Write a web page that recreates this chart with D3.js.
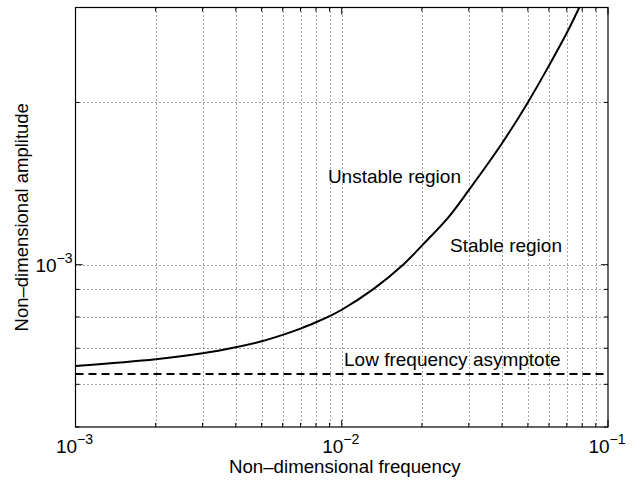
<!DOCTYPE html>
<html>
<head>
<meta charset="utf-8">
<script src="https://cdn.jsdelivr.net/npm/d3@7"></script>
<style>
  html, body { margin: 0; padding: 0; background: #fff; }
  svg { display: block; }
  text { font-family: "Liberation Sans", Arial, Helvetica, sans-serif; fill: #000; }
</style>
</head>
<body>
<svg id="chart" width="644" height="481"></svg>
<script>
// Stability boundary: amplitude versus frequency (both non-dimensional)
const frequency = [0.001, 0.002, 0.003, 0.004, 0.005, 0.006, 0.007, 0.008, 0.009, 0.010,
                   0.0131, 0.017, 0.020, 0.025, 0.030, 0.040, 0.050, 0.060, 0.070, 0.078];
const amplitude = [6.49e-4, 6.68e-4, 6.85e-4, 7.03e-4, 7.21e-4, 7.41e-4, 7.61e-4, 7.82e-4, 8.03e-4, 8.25e-4,
                   9.0e-4, 1.0e-3, 1.085e-3, 1.22e-3, 1.375e-3, 1.68e-3, 2.0e-3, 2.34e-3, 2.69e-3, 3.0e-3];

// Low frequency asymptote level
const asymptoteFrequency = [0.001, 0.1];
const asymptoteAmplitude = [6.27e-4, 6.27e-4];

// Axis extents and labelled ticks
const xDomain = [1e-3, 1e-1];
const yDomain = [5e-4, 3e-3];
const xTickValues = [1e-3, 1e-2, 1e-1];
const xTickExponents = ["\u22123", "\u22122", "\u22121"];
const yTickValues = [1e-3];
const yTickExponents = ["\u22123"];

// Region annotations (anchored at the start of each label's baseline)
const annotations = [
  { text: "Unstable region", f: 0.00887, a: 1.417e-3 },
  { text: "Stable region", f: 0.0255, a: 1.055e-3 },
  { text: "Low frequency asymptote", f: 0.0102, a: 6.49e-4 }
];

const svg = d3.select("#chart");
const W = 644, H = 481;
const margin = { left: 75.5, right: 36, top: 7.5, bottom: 54 };
const x0 = margin.left, x1 = W - margin.right, y0 = margin.top, y1 = H - margin.bottom;

const x = d3.scaleLog().domain(xDomain).range([x0, x1]);
const y = d3.scaleLog().domain(yDomain).range([y1, y0]);

svg.append("rect").attr("width", W).attr("height", H).attr("fill", "#fff");

// mantissa 1..9 positions in each decade, for grid and ticks
function logSteps(domain) {
  const out = [];
  const lo = Math.floor(Math.log10(domain[0]) + 1e-9), hi = Math.ceil(Math.log10(domain[1]) - 1e-9);
  for (let e = lo; e <= hi; e++) {
    for (let m = 1; m <= 9; m++) {
      const v = m * Math.pow(10, e);
      if (v >= domain[0] * 0.9999 && v <= domain[1] * 1.0001) out.push({ v, major: m === 1 });
    }
  }
  return out;
}
const xs = logSteps(xDomain);
const ys = logSteps(yDomain);

// dotted grid
const grid = svg.append("g").attr("stroke", "#000").attr("stroke-width", 0.8)
  .attr("stroke-dasharray", "1,3").attr("fill", "none").attr("opacity", 0.85);
grid.selectAll("line.gx").data(xs.filter(d => x(d.v) > x0 + 1 && x(d.v) < x1 - 1)).join("line")
  .attr("x1", d => Math.round(x(d.v)) + 0.5).attr("x2", d => Math.round(x(d.v)) + 0.5)
  .attr("y1", y0).attr("y2", y1);
grid.selectAll("line.gy").data(ys.filter(d => y(d.v) > y0 + 1 && y(d.v) < y1 - 1)).join("line")
  .attr("y1", d => Math.round(y(d.v)) + 0.5).attr("y2", d => Math.round(y(d.v)) + 0.5)
  .attr("x1", x0).attr("x2", x1);

// inward ticks on all four sides
const tickLen = d => d.major ? 7 : 4;
const ticks = svg.append("g").attr("stroke", "#000").attr("stroke-width", 1);
ticks.selectAll("line.tb").data(xs).join("line")
  .attr("x1", d => x(d.v)).attr("x2", d => x(d.v))
  .attr("y1", y1).attr("y2", d => y1 - tickLen(d));
ticks.selectAll("line.tt").data(xs).join("line")
  .attr("x1", d => x(d.v)).attr("x2", d => x(d.v))
  .attr("y1", y0).attr("y2", d => y0 + tickLen(d));
ticks.selectAll("line.tl").data(ys).join("line")
  .attr("y1", d => y(d.v)).attr("y2", d => y(d.v))
  .attr("x1", x0).attr("x2", d => x0 + tickLen(d));
ticks.selectAll("line.tr").data(ys).join("line")
  .attr("y1", d => y(d.v)).attr("y2", d => y(d.v))
  .attr("x1", x1).attr("x2", d => x1 - tickLen(d));

// frame
svg.append("rect").attr("x", x0).attr("y", y0).attr("width", x1 - x0).attr("height", y1 - y0)
  .attr("fill", "none").attr("stroke", "#000").attr("stroke-width", 1.2);

// tick labels: 10 with a superscript exponent
const tl = svg.append("g").attr("font-size", 19);
xTickValues.forEach((v, i) => {
  const t = tl.append("text").attr("x", x(v) - 1).attr("y", y1 + 26).attr("text-anchor", "middle");
  t.append("tspan").text("10");
  t.append("tspan").attr("font-size", 14).attr("dy", -9).text(xTickExponents[i]);
});
yTickValues.forEach((v, i) => {
  const t = tl.append("text").attr("x", x0 - 3).attr("y", y(v) + 7).attr("text-anchor", "end");
  t.append("tspan").text("10");
  t.append("tspan").attr("font-size", 14).attr("dy", -9).text(yTickExponents[i]);
});

// curves
svg.append("clipPath").attr("id", "plotclip").append("rect")
  .attr("x", x0).attr("y", y0).attr("width", x1 - x0).attr("height", y1 - y0);
const plot = svg.append("g").attr("clip-path", "url(#plotclip)");
const line = d3.line().x(d => x(d[0])).y(d => y(d[1])).curve(d3.curveCatmullRom.alpha(0.5));

plot.append("path").datum(d3.zip(frequency, amplitude)).attr("d", line)
  .attr("fill", "none").attr("stroke", "#000").attr("stroke-width", 2);
plot.append("path").datum(d3.zip(asymptoteFrequency, asymptoteAmplitude)).attr("d", line)
  .attr("fill", "none").attr("stroke", "#000").attr("stroke-width", 2)
  .attr("stroke-dasharray", "8,5");

// annotations
svg.append("g").attr("font-size", 19).selectAll("text").data(annotations).join("text")
  .attr("x", d => x(d.f)).attr("y", d => y(d.a)).text(d => d.text);

// axis titles
svg.append("text").attr("x", (x0 + x1) / 2 + 3).attr("y", 473).attr("text-anchor", "middle")
  .attr("font-size", 18.7).text("Non\u2013dimensional frequency");
svg.append("text").attr("transform", `translate(28,${(y0 + y1) / 2}) rotate(-90)`)
  .attr("text-anchor", "middle").attr("font-size", 18.5).text("Non\u2013dimensional amplitude");
</script>
</body>
</html>
